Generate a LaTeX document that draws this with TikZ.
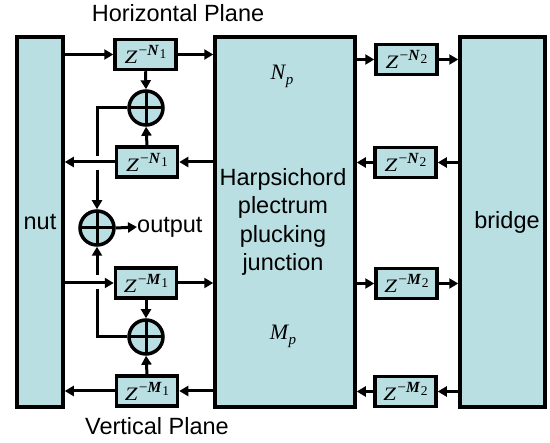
\documentclass[tikz,border=0pt]{standalone}
\usepackage{fontspec}
\setmainfont{Liberation Sans}
\newfontfamily\tms{Liberation Serif}
\usetikzlibrary{arrows.meta,calc}
\definecolor{boxfill}{RGB}{185,223,227}
\newcommand{\zlab}[2]{{\tms\fontsize{19}{19}\selectfont\itshape\scalebox{1.2}[1]{Z}\kern1.5pt\raisebox{8pt}{\fontsize{15.5}{15.5}\selectfont\upshape −\bfseries\itshape #1\kern1pt\raisebox{-3pt}{\fontsize{13.5}{13.5}\selectfont\mdseries\upshape #2}}}}
\newcommand{\sublab}[2]{{\tms\fontsize{22}{22}\selectfont\itshape #1\kern0.5pt\raisebox{-5pt}{\fontsize{15}{15}\selectfont #2}}}
\begin{document}
\begin{tikzpicture}[x=1pt,y=-1pt,
  blk/.style={draw, line width=3.5pt, fill=boxfill, inner sep=0pt},
  zbox/.style={blk, minimum width=61pt, minimum height=30pt},
  adder/.style={circle, draw, line width=3.5pt, fill=boxfill, minimum size=34pt, inner sep=0pt,
    path picture={\draw[line width=3pt] (path picture bounding box.north) -- (path picture bounding box.south)
      (path picture bounding box.west) -- (path picture bounding box.east);}},
  ln/.style={line width=3pt},
  conn/.style={ln, -{Triangle[length=9pt,width=10pt]}},
  lbl/.style={font=\fontsize{23.5}{28.5}\selectfont, inner sep=0pt}]
\useasboundingbox (0,0) rectangle (550,443);
% big blocks
\node[blk, minimum width=46pt, minimum height=370pt] (nut) at (40,222) {};
\node[lbl] (nuttxt) at (40,222) {nut};
\node[blk, minimum width=140pt, minimum height=370pt] (harp) at (285,222) {};
\node[lbl, align=center] (harptxt) at (283,222) {Harpsichord\\plectrum\\plucking\\junction};
\node (np) at (282,76) {\sublab{N}{p}};
\node (mp) at (283,336) {\sublab{M}{p}};
\node[blk, minimum width=85pt, minimum height=370pt] (bridge) at (502.5,222) {};
\node[lbl] (brtxt) at (507,222) {bridge};
% delay boxes left
\node[zbox] (z1) at (145.5,54.5) {\zlab{N}{1}};
\node[zbox] (z2) at (147,162) {\zlab{N}{1}};
\node[zbox] (z3) at (146,283) {\zlab{M}{1}};
\node[zbox] (z4) at (147,391) {\zlab{M}{1}};
% delay boxes right
\node[zbox] (z5) at (406.5,59.5) {\zlab{N}{2}};
\node[zbox] (z6) at (405.5,162.5) {\zlab{N}{2}};
\node[zbox] (z7) at (406.5,283.5) {\zlab{M}{2}};
\node[zbox] (z8) at (405.5,391.5) {\zlab{M}{2}};
% adders
\node[adder] (a1) at (146,108) {};
\node[adder] (a2) at (146,337) {};
\node[adder] (out) at (97,228) {};
\node[lbl, anchor=west] (outtxt) at (137,227) {output};
% plane labels
\node[lbl] (hp) at (178,13) {Horizontal Plane};
\node[lbl] (vp) at (157,426) {Vertical Plane};
% left connectors
\draw[conn] (nut.east |- z1) -- (z1.west);
\draw[conn] (z1.east) -- (z1.east -| harp.west);
\draw[conn] (harp.west |- z2) -- (z2.east);
\draw[conn] (z2.west) -- (z2.west -| nut.east);
\draw[conn] (nut.east |- z3) -- (z3.west);
\draw[conn] (z3.east) -- (z3.east -| harp.west);
\draw[conn] (harp.west |- z4) -- (z4.east);
\draw[conn] (z4.west) -- (z4.west -| nut.east);
% right connectors
\draw[conn] (harp.east |- z5) -- (z5.west);
\draw[conn] (z5.east) -- (z5.east -| bridge.west);
\draw[conn] (bridge.west |- z6) -- (z6.east);
\draw[conn] (z6.west) -- (z6.west -| harp.east);
\draw[conn] (harp.east |- z7) -- (z7.west);
\draw[conn] (z7.east) -- (z7.east -| bridge.west);
\draw[conn] (bridge.west |- z8) -- (z8.east);
\draw[conn] (z8.west) -- (z8.west -| harp.east);
% adder connectors
\draw[conn] (z1.south) -- (a1.north);
\draw[conn] (z2.north) -- (a1.south);
\draw[conn] (z3.south) -- (a2.north);
\draw[conn] (z4.north) -- (a2.south);
\coordinate (g1a) at (97,156);
\coordinate (g1b) at (97,170);
\coordinate (g2a) at (97,289);
\coordinate (g2b) at (97,275);
\draw[ln] (a1.west) -| (g1a);
\draw[conn] (g1b) -- (out.north);
\draw[ln] (a2.west) -| (g2a);
\draw[conn] (g2b) -- (out.south);
\draw[conn] (out.east) -- (outtxt.west);
\end{tikzpicture}
\end{document}
